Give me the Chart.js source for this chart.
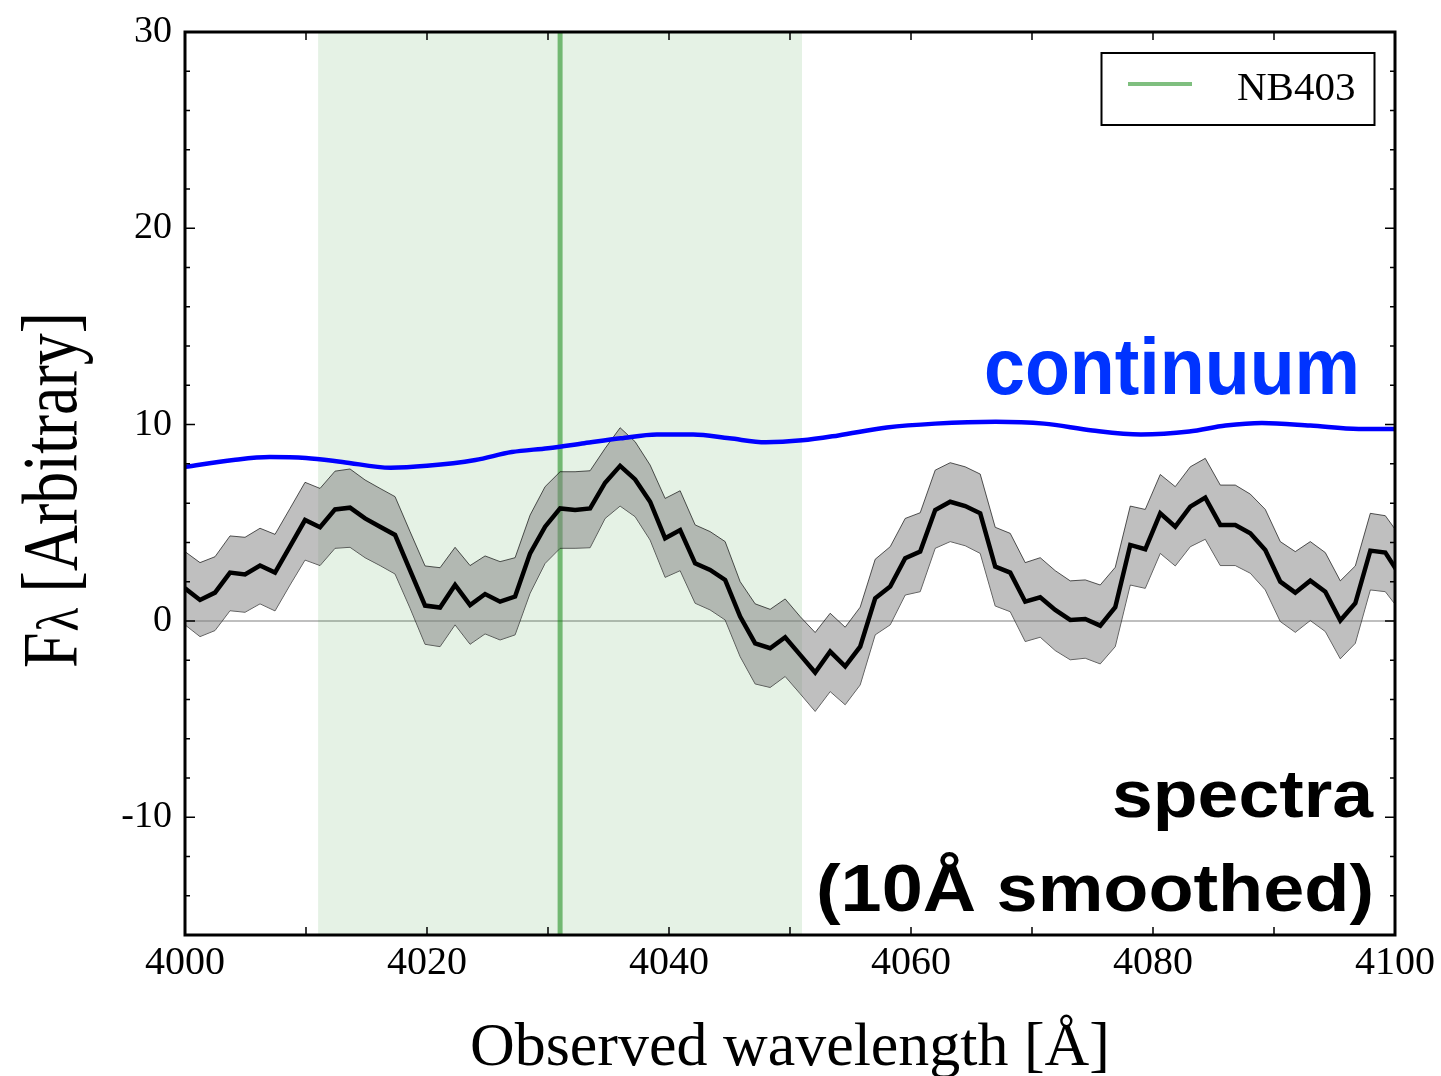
<!DOCTYPE html>
<html>
<head>
<meta charset="utf-8">
<script src="https://cdn.jsdelivr.net/npm/chart.js@4"></script>
<style>
  html, body { margin: 0; padding: 0; background: #fff; }
  #wrap { width: 1441px; height: 1076px; }
</style>
</head>
<body>
<div id="wrap"><canvas id="myChart" width="1441" height="1076"></canvas></div>
<script>
// wavelengths of the smoothed spectrum samples
const wave = [
  4000.00, 4001.24, 4002.48, 4003.72, 4004.96, 4006.20, 4007.44, 4008.68, 4009.92, 4011.16,
  4012.40, 4013.64, 4014.88, 4016.12, 4017.36, 4018.60, 4019.84, 4021.08, 4022.32, 4023.56,
  4024.80, 4026.04, 4027.28, 4028.52, 4029.76, 4031.00, 4032.24, 4033.48, 4034.72, 4035.96,
  4037.20, 4038.44, 4039.68, 4040.92, 4042.16, 4043.40, 4044.64, 4045.88, 4047.12, 4048.36,
  4049.60, 4050.84, 4052.08, 4053.32, 4054.56, 4055.80, 4057.04, 4058.28, 4059.52, 4060.76,
  4062.00, 4063.24, 4064.48, 4065.72, 4066.96, 4068.20, 4069.44, 4070.68, 4071.92, 4073.16,
  4074.40, 4075.64, 4076.88, 4078.12, 4079.36, 4080.60, 4081.84, 4083.08, 4084.32, 4085.56,
  4086.80, 4088.04, 4089.28, 4090.52, 4091.76, 4093.00, 4094.24, 4095.48, 4096.72, 4097.96,
  4099.20, 4100.44
];

const flux = [
  1.66, 1.07, 1.44, 2.46, 2.37, 2.82, 2.46, 3.80, 5.14, 4.77,
  5.68, 5.77, 5.22, 4.80, 4.38, 2.58, 0.78, 0.68, 1.83, 0.81,
  1.37, 0.98, 1.24, 3.44, 4.80, 5.73, 5.65, 5.73, 7.04, 7.90,
  7.21, 6.07, 4.21, 4.63, 2.93, 2.60, 2.09, 0.22, -1.14, -1.39,
  -0.83, -1.73, -2.63, -1.56, -2.32, -1.31, 1.15, 1.75, 3.19, 3.53,
  5.65, 6.07, 5.85, 5.48, 2.77, 2.46, 0.98, 1.20, 0.56, 0.05,
  0.10, -0.24, 0.70, 3.87, 3.65, 5.48, 4.80, 5.82, 6.28, 4.89,
  4.89, 4.46, 3.61, 2.00, 1.44, 2.05, 1.49, 0.02, 0.90, 3.58,
  3.48, 2.30
];

const fluxUpper = [
  3.53, 2.97, 3.27, 4.33, 4.26, 4.72, 4.41, 5.73, 7.06, 6.75,
  7.63, 7.74, 7.18, 6.75, 6.33, 4.55, 2.80, 2.71, 3.75, 2.82,
  3.31, 3.02, 3.22, 5.39, 6.84, 7.60, 7.60, 7.65, 8.79, 9.84,
  9.13, 7.94, 6.24, 6.63, 4.89, 4.55, 4.04, 2.00, 0.87, 0.59,
  1.12, 0.22, -0.59, 0.39, -0.32, 0.70, 3.14, 3.78, 5.22, 5.51,
  7.68, 8.06, 7.85, 7.48, 4.77, 4.46, 2.97, 3.22, 2.56, 2.04,
  2.09, 1.83, 2.73, 5.85, 5.68, 7.46, 6.84, 7.85, 8.28, 6.92,
  6.92, 6.46, 5.68, 4.04, 3.53, 4.04, 3.48, 2.04, 2.80, 5.48,
  5.36, 4.30
];

const fluxLower = [
  -0.20, -0.80, -0.49, 0.52, 0.44, 0.87, 0.51, 1.83, 3.10, 2.82,
  3.70, 3.75, 3.22, 2.82, 2.39, 0.65, -1.19, -1.31, -0.20, -1.19,
  -0.66, -0.97, -0.71, 1.41, 2.93, 3.70, 3.70, 3.73, 5.22, 5.85,
  5.31, 4.12, 2.22, 2.56, 0.90, 0.56, 0.05, -1.82, -3.21, -3.39,
  -2.83, -3.71, -4.61, -3.60, -4.27, -3.26, -0.71, -0.20, 1.32, 1.49,
  3.70, 4.04, 3.83, 3.44, 0.76, 0.47, -1.05, -0.83, -1.51, -1.98,
  -1.90, -2.19, -1.31, 1.83, 1.66, 3.44, 2.80, 3.78, 4.16, 2.82,
  2.82, 2.43, 1.58, -0.03, -0.58, 0.02, -0.54, -1.93, -1.14, 1.58,
  1.49, 0.50
];

// continuum model
const contWave = [4000, 4004, 4007, 4010, 4013, 4017, 4020, 4024, 4027, 4030,
  4033, 4036, 4039, 4042, 4045, 4048, 4051, 4054, 4058, 4062,
  4067, 4071, 4075, 4079, 4083, 4086, 4089, 4093, 4097, 4100];
const contFlux = [7.85, 8.2, 8.35, 8.3, 8.1, 7.8, 7.9, 8.2, 8.6, 8.8,
  9.05, 9.3, 9.5, 9.5, 9.3, 9.1, 9.2, 9.45, 9.85, 10.05,
  10.15, 10.05, 9.7, 9.5, 9.65, 9.95, 10.08, 9.95, 9.78, 9.78];

// NB403 filter: centre and band edges
const nbCenter = 4031;
const nbBand = [4011, 4051];

const xTicks = [4000, 4020, 4040, 4060, 4080, 4100];
const yTicks = [-10, 0, 10, 20, 30];
const xMin = 4000, xMax = 4100, yMin = -16, yMax = 30;

const toPts = (xs, ys) => xs.map((x, i) => ({ x: x, y: ys[i] }));

const SERIF = "'Liberation Serif', 'Times New Roman', serif";
const SANS = "'Liberation Sans', Arial, sans-serif";

function fitText(ctx, text, font, x, y, width, align) {
  ctx.save();
  ctx.font = font;
  const w = ctx.measureText(text).width;
  ctx.translate(x, y);
  ctx.scale(width / w, 1);
  ctx.textAlign = align;
  ctx.textBaseline = 'alphabetic';
  ctx.fillText(text, 0, 0);
  ctx.restore();
}

const decorations = {
  id: 'decorations',
  afterDraw(chart) {
    const ctx = chart.ctx;
    const a = chart.chartArea;
    const xs = chart.scales.x, ys = chart.scales.y;

    // frame
    ctx.save();
    ctx.strokeStyle = '#000';
    ctx.lineWidth = 3;
    ctx.strokeRect(a.left, a.top, a.right - a.left, a.bottom - a.top);

    // inward ticks
    ctx.lineWidth = 1.5;
    ctx.beginPath();
    for (let v = xMin + 10; v < xMax; v += 10) {
      const px = xs.getPixelForValue(v);
      ctx.moveTo(px, a.bottom); ctx.lineTo(px, a.bottom - 8);
      ctx.moveTo(px, a.top); ctx.lineTo(px, a.top + 8);
    }
    for (let v = -14; v < yMax; v += 2) {
      const py = ys.getPixelForValue(v);
      const len = (v % 10 === 0) ? 10 : 5;
      ctx.moveTo(a.left, py); ctx.lineTo(a.left + len, py);
      ctx.moveTo(a.right, py); ctx.lineTo(a.right - len, py);
    }
    ctx.stroke();
    ctx.restore();

    // annotations
    ctx.save();
    ctx.fillStyle = '#0033ff';
    fitText(ctx, 'continuum', 'bold 80px ' + SANS, 984, 394, 376, 'left');
    ctx.fillStyle = '#000';
    fitText(ctx, 'spectra', 'bold 67px ' + SANS, 1373, 817, 261, 'right');
    fitText(ctx, '(10Å smoothed)', 'bold 67px ' + SANS, 1374, 911, 558, 'right');

    // x label
    fitText(ctx, 'Observed wavelength [Å]', '62px ' + SERIF, 790, 1065, 640, 'center');

    // y label  F_lambda [Arbitrary]
    ctx.save();
    ctx.translate(76, 490);
    ctx.rotate(-Math.PI / 2);
    const big = '78px ' + SERIF, small = '60px ' + SERIF;
    ctx.font = big;
    const wF = ctx.measureText('F').width;
    const wR = ctx.measureText(' [Arbitrary]').width;
    ctx.font = small;
    const wL = ctx.measureText('λ').width;
    const total = wF + wL + wR;
    const sx = 356 / total;
    ctx.scale(sx, 1);
    ctx.translate(-total / 2, 0);
    ctx.textAlign = 'left';
    ctx.textBaseline = 'alphabetic';
    ctx.font = big;
    ctx.fillText('F', 0, 0);
    ctx.font = small;
    ctx.fillText('λ', wF + 1, 2);
    ctx.font = big;
    ctx.fillText(' [Arbitrary]', wF + wL, 0);
    ctx.restore();

    // legend
    ctx.fillStyle = '#fff';
    ctx.fillRect(1101.5, 53, 273, 72);
    ctx.strokeStyle = '#000';
    ctx.lineWidth = 2;
    ctx.strokeRect(1101.5, 53, 273, 72);
    ctx.strokeStyle = 'rgba(0,128,0,0.5)';
    ctx.lineWidth = 4;
    ctx.beginPath();
    ctx.moveTo(1128, 84); ctx.lineTo(1192, 84);
    ctx.stroke();
    ctx.fillStyle = '#000';
    ctx.font = '41px ' + SERIF;
    ctx.textAlign = 'left';
    ctx.fillText('NB403', 1237, 100);
    ctx.restore();
  }
};

const data = {
  datasets: [
    {
      label: 'continuum',
      data: toPts(contWave, contFlux),
      borderColor: '#0000ff',
      borderWidth: 4.5,
      pointRadius: 0,
      cubicInterpolationMode: 'monotone',
      fill: false
    },
    {
      label: 'spectra',
      data: toPts(wave, flux),
      borderColor: '#000',
      borderWidth: 4.5,
      pointRadius: 0,
      tension: 0,
      fill: false
    },
    {
      label: 'upper',
      data: toPts(wave, fluxUpper),
      borderColor: 'rgba(0,0,0,0.65)',
      borderWidth: 1,
      pointRadius: 0,
      tension: 0,
      backgroundColor: 'rgba(128,128,128,0.5)',
      fill: '+1'
    },
    {
      label: 'lower',
      data: toPts(wave, fluxLower),
      borderColor: 'rgba(0,0,0,0.65)',
      borderWidth: 1,
      pointRadius: 0,
      tension: 0,
      fill: false
    },
    {
      label: 'NB403',
      data: [{ x: nbCenter, y: yMin }, { x: nbCenter, y: yMax }],
      borderColor: 'rgba(0,128,0,0.5)',
      borderWidth: 5,
      pointRadius: 0,
      fill: false
    },
    {
      label: 'NB403 band',
      data: [{ x: nbBand[0], y: yMax }, { x: nbBand[1], y: yMax }],
      borderWidth: 0,
      borderColor: 'rgba(0,0,0,0)',
      pointRadius: 0,
      backgroundColor: 'rgba(0,128,0,0.1)',
      fill: { value: yMin }
    }
  ]
};

const config = {
  type: 'line',
  data: data,
  plugins: [decorations],
  options: {
    responsive: false,
    animation: false,
    events: [],
    layout: { padding: { left: 0, right: 46, top: 32, bottom: 0 } },
    plugins: {
      legend: { display: false },
      title: { display: false },
      tooltip: { enabled: false }
    },
    scales: {
      x: {
        type: 'linear',
        min: xMin,
        max: xMax,
        afterBuildTicks: (s) => { s.ticks = xTicks.map(v => ({ value: v })); },
        afterFit: (s) => { s.height = 141; },
        grid: { display: false, drawTicks: false },
        border: { display: false },
        ticks: {
          color: '#000',
          padding: 4,
          maxRotation: 0,
          callback: (v) => String(v),
          font: { family: SERIF, size: 40 }
        }
      },
      y: {
        type: 'linear',
        min: yMin,
        max: yMax,
        afterBuildTicks: (s) => { s.ticks = yTicks.map(v => ({ value: v })); },
        afterFit: (s) => { s.width = 185; s.paddingTop = 0; s.paddingBottom = 0; },
        grid: {
          drawTicks: false,
          lineWidth: 2,
          color: (c) => (c.tick && c.tick.value === 0) ? 'rgba(0,0,0,0.25)' : 'rgba(0,0,0,0)'
        },
        border: { display: false },
        ticks: {
          color: '#000',
          padding: 13,
          callback: (v) => String(v),
          font: { family: SERIF, size: 38, lineHeight: 1 }
        }
      }
    }
  }
};

const myChart = new Chart(document.getElementById('myChart'), config);
</script>
</body>
</html>
